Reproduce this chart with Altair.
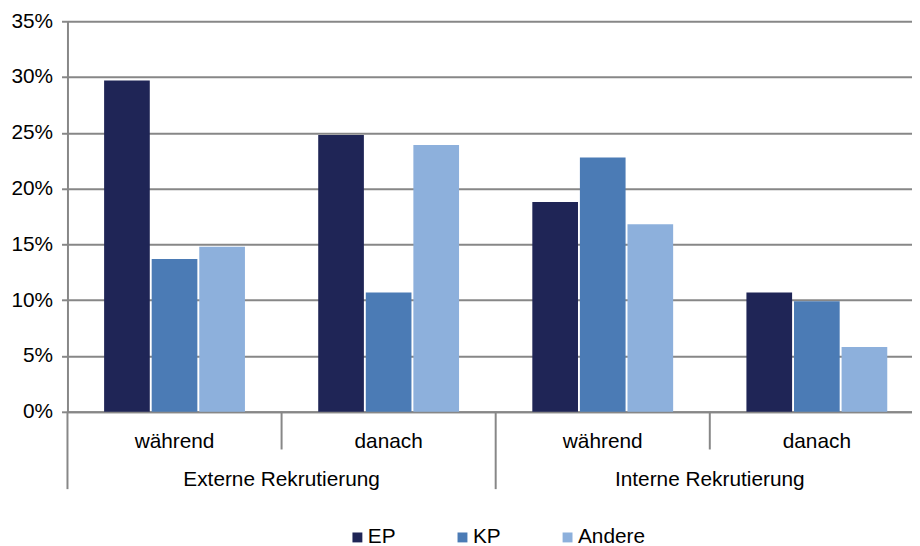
import altair as alt
import pandas as pd

# ---- data ----
groups = ["Externe Rekrutierung", "Interne Rekrutierung"]
phases = ["während", "danach"]
series = ["EP", "KP", "Andere"]
ep_values = [29.7, 24.8, 18.8, 10.7]
kp_values = [13.7, 10.7, 22.8, 9.9]
andere_values = [14.8, 23.9, 16.8, 5.8]
y_ticks = [0, 0.05, 0.10, 0.15, 0.20, 0.25, 0.30, 0.35]

colors = ["#1f2556", "#4b7bb5", "#8db0dc"]
grey = "#878787"
FONT = "Liberation Sans"
FS = 21

keys = [f"{g}|{p}" for g in groups for p in phases]
rows = []
for s, vals in zip(series, [ep_values, kp_values, andere_values]):
    for k, v in zip(keys, vals):
        rows.append({"key": k, "series": s, "value": v / 100})
bars_df = pd.DataFrame(rows)

long_df = pd.DataFrame({"key": [f"{g}|{phases[0]}" for g in groups]})
short_df = pd.DataFrame({"key": [f"{g}|{phases[1]}" for g in groups]})
group_df = pd.DataFrame({"key": [f"{g}|{phases[1]}" for g in groups], "label": groups})

xscale = alt.Scale(domain=keys, paddingInner=0, paddingOuter=0)
xaxis = alt.Axis(
    title=None, labelExpr="split(datum.value, '|')[1]", labelAngle=0,
    labelFontSize=FS, labelFont=FONT, labelColor="#000000", labelPadding=19,
    ticks=False, domainColor=grey, domainWidth=2, grid=False,
)
yscale = alt.Scale(domain=[0, 0.35], nice=False)
yaxis = alt.Axis(
    title=None, values=y_ticks, format=".0%", grid=True, gridColor=grey, gridWidth=2,
    domainColor=grey, domainWidth=2, tickColor=grey, tickSize=6, tickWidth=2,
    labelFontSize=FS, labelFont=FONT, labelColor="#000000", labelPadding=9,
)

bars = alt.Chart(bars_df).mark_bar().encode(
    x=alt.X("key:N", scale=xscale, axis=xaxis),
    xOffset=alt.XOffset("series:N", scale=alt.Scale(domain=series, paddingInner=0.04, paddingOuter=0.77)),
    y=alt.Y("value:Q", scale=yscale, axis=yaxis),
    color=alt.Color(
        "series:N", scale=alt.Scale(domain=series, range=colors),
        legend=alt.Legend(
            orient="none", legendX=282, legendY=510, direction="horizontal", title=None,
            symbolType="square", symbolSize=100, symbolStrokeWidth=0,
            labelFontSize=FS, labelFont=FONT, labelColor="#000000",
            columnPadding=56, labelOffset=0, padding=0,
        ),
    ),
)

long_rules = alt.Chart(long_df).mark_rule(color=grey, strokeWidth=2).encode(
    x=alt.X("key:N", scale=xscale, axis=xaxis, bandPosition=0),
    y=alt.value(394),
    y2=alt.value(472),
)
short_rules = alt.Chart(short_df).mark_rule(color=grey, strokeWidth=2).encode(
    x=alt.X("key:N", scale=xscale, axis=xaxis, bandPosition=0),
    y=alt.value(394),
    y2=alt.value(432),
)
group_labels = alt.Chart(group_df).mark_text(
    fontSize=FS, font=FONT, color="#000000", baseline="middle", align="center"
).encode(
    x=alt.X("key:N", scale=xscale, axis=xaxis, bandPosition=0),
    y=alt.value(463),
    text="label:N",
)

chart = alt.layer(bars, long_rules, short_rules, group_labels).properties(
    width=864, height=394,
    autosize=alt.AutoSizeParams(type="none"),
    padding={"left": 60, "top": 11, "right": -12, "bottom": 133},
).configure_view(stroke=None)

chart.save("out.html", embed_options={"renderer": "svg", "actions": False})
